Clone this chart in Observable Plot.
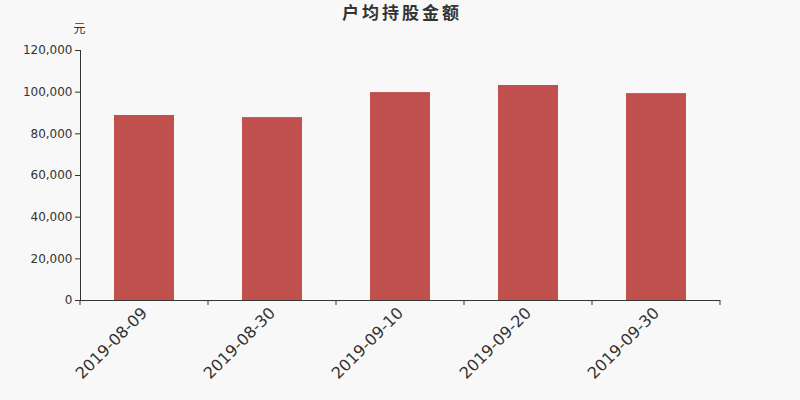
<!DOCTYPE html>
<html><head><meta charset="utf-8">
<script src="https://cdn.jsdelivr.net/npm/d3@7"></script>
<script src="https://cdn.jsdelivr.net/npm/@observablehq/plot@0.6"></script>
<style>
html,body{margin:0;padding:0;background:#f8f8f8;}
svg{font-family:"DejaVu Sans",sans-serif;}
</style>
</head><body>
<div id="chart"></div>
<script>
const dates = ["2019-08-09","2019-08-30","2019-09-10","2019-09-20","2019-09-30"];
const values = [88800, 87800, 99800, 103200, 99300];
const yTicks = [0,20000,40000,60000,80000,100000,120000];
const title = "户均持股金额";
const unit = "元";

const data = dates.map((d,i)=>({date:d, value:values[i]}));

const chart = Plot.plot({
  width: 800, height: 400,
  marginTop: 50, marginBottom: 100, marginLeft: 80, marginRight: 80,
  style: {background:"#f8f8f8", color:"#333", fontFamily:"DejaVu Sans, sans-serif", overflow:"visible"},
  x: {domain: dates, paddingInner: 0.53, paddingOuter: 0.265, axis: null},
  y: {domain: [0,120000], axis: null},
  marks: [
    Plot.barY(data, {x:"date", y:"value", fill:"#c0504d"}),
    Plot.axisY({ticks: yTicks, tickSize: 5, tickPadding: 3, tickFormat: d3.format(","), fontSize: 12, stroke:"#333", fill:"#333", label: null}),
    Plot.frame({anchor:"left", stroke:"#333"}),
    Plot.ruleY([0], {stroke:"#333"}),
    Plot.axisX({tickSize: 0, tickPadding: 10, tickRotate: -45, fontSize: 16, fill:"#333", label: null}),
    Plot.text([title], {frameAnchor:"top", dy:-44, dx:1.5, fontSize:17, fontWeight:"bold", fill:"#333", fontFamily:"Noto Sans CJK SC", text:d=>d}),
    Plot.text([unit], {frameAnchor:"top-left", dy:-26, dx:-1, textAnchor:"middle", fontSize:12, fill:"#333", fontFamily:"Noto Sans CJK SC", text:d=>d})
  ]
});
document.getElementById("chart").appendChild(chart);

// title letter spacing
d3.select(chart).selectAll("text").filter(function(){ return this.textContent === title; }).style("letter-spacing","3px");

// category boundary tick marks derived from the band scale
const xs = chart.scale("x");
const ys = chart.scale("y");
const y0 = ys.apply(0);
const half = (xs.step - xs.bandwidth)/2;
const bounds = dates.map(d => xs.apply(d) - half);
bounds.push(xs.apply(dates[dates.length-1]) + xs.bandwidth + half);
const g = d3.select(chart).append("g").attr("stroke","#333");
bounds.forEach(b => g.append("line").attr("x1",b).attr("x2",b).attr("y1",y0).attr("y2",y0+5));
</script>
</body></html>
